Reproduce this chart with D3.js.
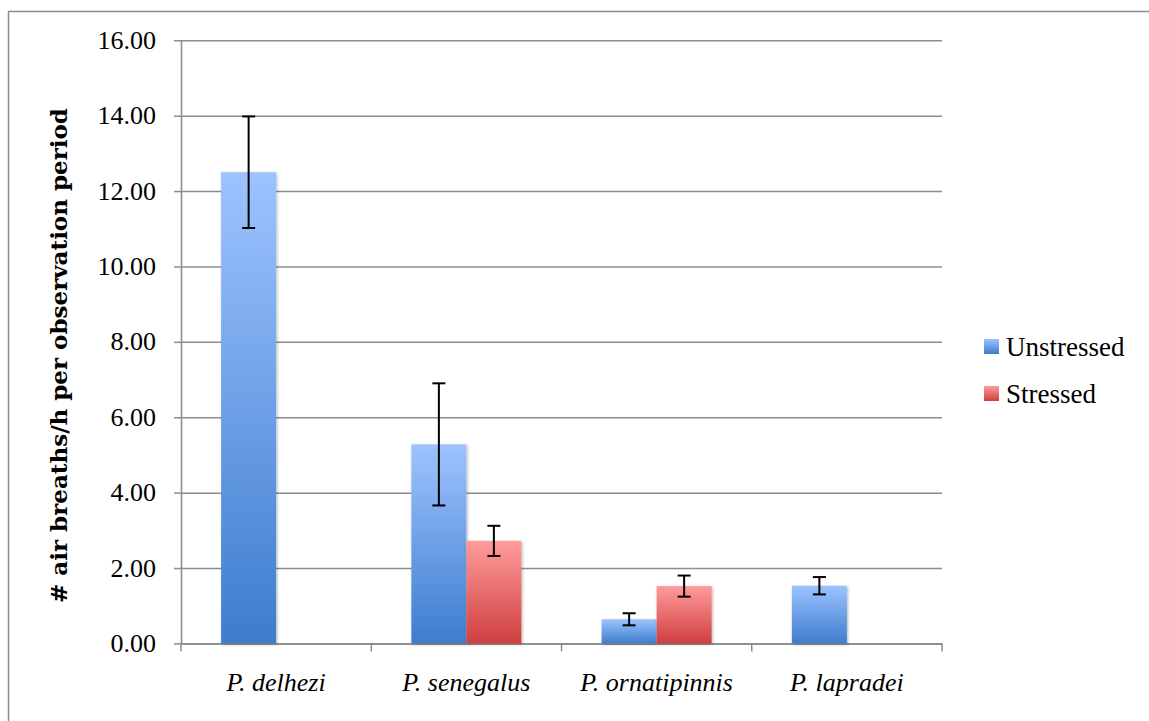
<!DOCTYPE html>
<html><head><meta charset="utf-8">
<script src="https://cdn.jsdelivr.net/npm/d3@7"></script>
<style>html,body{margin:0;padding:0;background:#fff;}svg{display:block;}</style>
</head><body>
<svg id="chart" width="1149" height="721"></svg>
<script>
const categories = ["P. delhezi", "P. senegalus", "P. ornatipinnis", "P. lapradei"];
const seriesNames = ["Unstressed", "Stressed"];
const unstressedValues = [12.50, 5.28, 0.64, 1.53];
const unstressedErrors = [1.48, 1.62, 0.16, 0.23];
const stressedValues = [null, 2.72, 1.52, null];
const stressedErrors = [null, 0.40, 0.28, null];
const yTicks = [0, 2, 4, 6, 8, 10, 12, 14, 16];
const yTitle = "# air breaths/h per observation period";

const svg = d3.select("#chart");
const W = 1149, H = 721;
const plot = {left: 181, right: 942, top: 40.3, bottom: 643.4};
const gridColor = "#8c8c8c";

const defs = svg.append("defs");
function grad(id, c1, c2) {
  const g = defs.append("linearGradient").attr("id", id)
    .attr("x1", 0).attr("y1", 0).attr("x2", 0).attr("y2", 1);
  g.append("stop").attr("offset", "0%").attr("stop-color", c1);
  g.append("stop").attr("offset", "100%").attr("stop-color", c2);
}
grad("gBlue", "#9dc3ff", "#3d7dcd");
grad("gRed", "#ff9b9b", "#cf3f3f");
const f = defs.append("filter").attr("id", "shadow")
  .attr("x", "-20%").attr("y", "-5%").attr("width", "140%").attr("height", "115%");
f.append("feDropShadow").attr("dx", 1).attr("dy", 1).attr("stdDeviation", 1.6)
  .attr("flood-color", "#000").attr("flood-opacity", 0.3);

// outer border
svg.append("rect").attr("x", 8.5).attr("y", 11.5).attr("width", W + 20).attr("height", H + 20)
  .attr("fill", "none").attr("stroke", gridColor).attr("stroke-width", 1.5);

const x = d3.scaleBand().domain(categories).range([plot.left, plot.right]).padding(0);
const xs = d3.scaleBand().domain(seriesNames).range([0, x.bandwidth()]).paddingInner(0).paddingOuter(0.7295);
const y = d3.scaleLinear().domain([0, 16]).range([plot.bottom, plot.top]);

// y axis with gridlines
const yAxis = d3.axisLeft(y).tickValues(yTicks).tickFormat(d3.format(".2f"))
  .tickSizeInner(-(plot.right - plot.left)).tickSizeOuter(0).tickPadding(18);
const gy = svg.append("g").attr("transform", `translate(${plot.left},0)`).call(yAxis);
gy.select(".domain").attr("stroke", gridColor).attr("stroke-width", 1.6);
gy.selectAll(".tick line").attr("stroke", gridColor).attr("stroke-width", 1.5);
gy.selectAll(".tick").append("line").attr("x1", -7).attr("x2", 0)
  .attr("stroke", gridColor).attr("stroke-width", 1.5);
gy.selectAll(".tick text").attr("x", -25).attr("dy", "0.31em")
  .style("font-family", "'Liberation Serif', serif").style("font-size", "26px").attr("fill", "#000");

// x axis
const xAxis = d3.axisBottom(x).tickSize(0).tickFormat("");
const gx = svg.append("g").attr("transform", `translate(0,${plot.bottom})`).call(xAxis);
gx.select(".domain").attr("stroke", gridColor).attr("stroke-width", 1.6);
const bounds = categories.map(c => x(c)).concat([x(categories[categories.length - 1]) + x.bandwidth()]);
gx.selectAll(".btick").data(bounds).enter().append("line").attr("class", "btick")
  .attr("x1", d => d).attr("x2", d => d).attr("y1", 0).attr("y2", 8)
  .attr("stroke", gridColor).attr("stroke-width", 1.5);
gx.selectAll(".clabel").data(categories).enter().append("text").attr("class", "clabel")
  .attr("x", d => x(d) + x.bandwidth() / 2).attr("y", 48)
  .attr("text-anchor", "middle").attr("fill", "#000")
  .style("font-family", "'Liberation Serif', serif").style("font-style", "italic").style("font-size", "26px")
  .text(d => d);

// bars
const data = [];
categories.forEach((c, i) => {
  if (unstressedValues[i] != null) data.push({c, s: "Unstressed", v: unstressedValues[i], e: unstressedErrors[i]});
  if (stressedValues[i] != null) data.push({c, s: "Stressed", v: stressedValues[i], e: stressedErrors[i]});
});
svg.append("g").selectAll("rect").data(data).enter().append("rect")
  .attr("x", d => x(d.c) + xs(d.s)).attr("width", xs.bandwidth())
  .attr("y", d => y(d.v)).attr("height", d => y(0) - y(d.v))
  .attr("fill", d => d.s === "Unstressed" ? "url(#gBlue)" : "url(#gRed)")
  .attr("filter", "url(#shadow)");

// error bars
const eg = svg.append("g").attr("stroke", "#000").attr("stroke-width", 2).attr("fill", "none");
data.forEach(d => {
  const cx = x(d.c) + xs(d.s) + xs.bandwidth() / 2;
  const y1 = y(d.v + d.e), y2 = y(d.v - d.e);
  eg.append("line").attr("x1", cx).attr("x2", cx).attr("y1", y1).attr("y2", y2);
  eg.append("line").attr("x1", cx - 6.5).attr("x2", cx + 6.5).attr("y1", y1).attr("y2", y1);
  eg.append("line").attr("x1", cx - 6.5).attr("x2", cx + 6.5).attr("y1", y2).attr("y2", y2);
});

// y title
svg.append("text").attr("transform", "translate(67,355.5) rotate(-90)")
  .attr("text-anchor", "middle")
  .style("font-family", "'DejaVu Serif', serif").style("font-weight", "bold").style("font-size", "23px")
  .text(yTitle);

// legend
const lg = svg.append("g");
seriesNames.forEach((s, i) => {
  const yy = 339 + i * 47;
  lg.append("rect").attr("x", 984).attr("y", yy).attr("width", 15).attr("height", 15)
    .attr("fill", s === "Unstressed" ? "url(#gBlue)" : "url(#gRed)");
  lg.append("text").attr("x", 1006).attr("y", yy + 16.7)
    .style("font-family", "'Liberation Serif', serif").style("font-size", "27px").text(s);
});
</script>
</body></html>
